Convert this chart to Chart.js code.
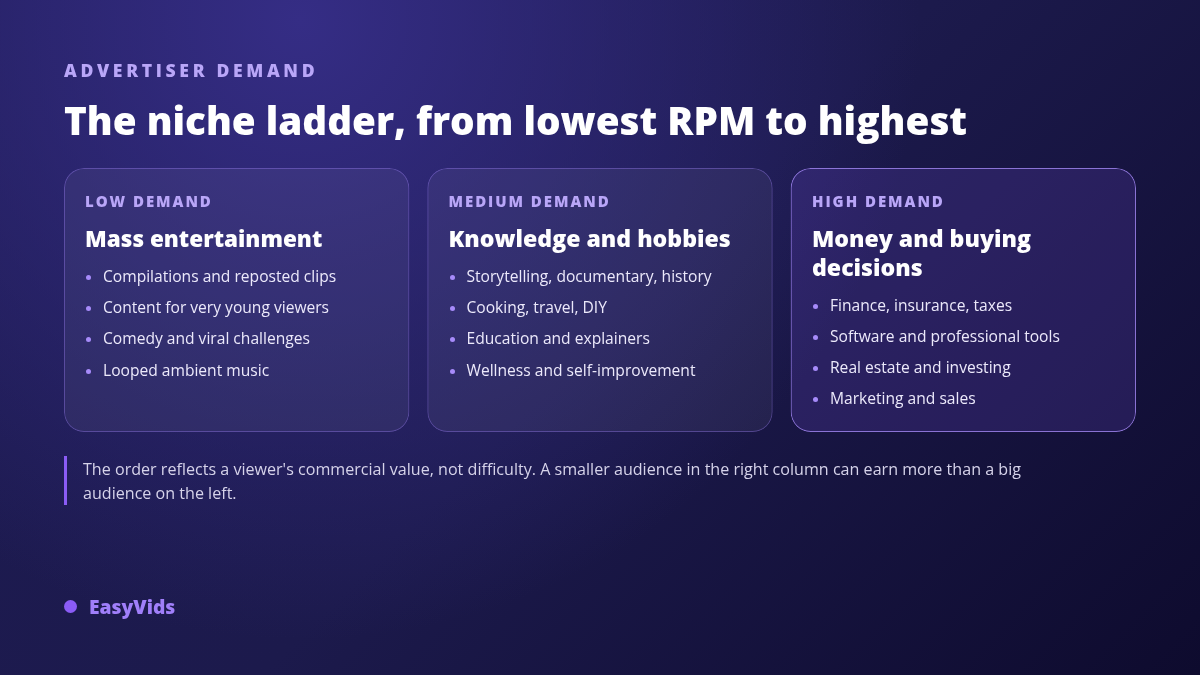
<!DOCTYPE html>
<html>
<head>
<meta charset="utf-8">
<script src="https://cdn.jsdelivr.net/npm/chart.js@4"></script>
<style>
html, body { margin: 0; padding: 0; }
body {
    width: 1200px; height: 675px; overflow: hidden; position: relative;
    font-family: "Open Sans", sans-serif; color: #fff;
    background:
        radial-gradient(circle 620px at 300px 20px, #352d85 0%, rgba(53,45,133,0) 100%),
        linear-gradient(135deg, #1e1b54 0%, #1c1a4c 50%, #0e0b2e 100%);
}
#myChart { position: absolute; left: 0; top: 0; }
.abs { position: absolute; white-space: nowrap; }
#eyebrow { left: 64px; top: 58px; font-size: 17.6px; font-weight: 800; letter-spacing: 3.65px; color: #b9a6f8; }
#title { left: 64px; top: 94px; font-size: 38.65px; font-weight: 800; line-height: 52px; }
.card { position: absolute; top: 168px; width: 305px; }
.tier { position: absolute; top: 23px; left: 0; font-size: 15px; font-weight: 800; letter-spacing: 1.95px; color: #b9a6f8; white-space: nowrap; }
.head { position: absolute; top: 56px; left: 0; width: 305px; font-weight: 800; line-height: 29px; }
.items { position: absolute; left: 0; margin: 0; padding: 0; list-style: none; }
.items li { position: relative; height: 31.2px; line-height: 31px; padding-left: 18px; font-size: 15.6px; color: #ece9fb; white-space: nowrap; }
.items li::before { content: ""; position: absolute; left: 1px; top: 14px; width: 5px; height: 5px; border-radius: 50%; background: #a78bfa; }
#note { left: 64px; top: 456px; height: 48px; padding-top: 1px; border-left: 3px solid #8b5cf6; padding-left: 16px; font-size: 16.1px; line-height: 24px; color: #d6d3ea; }
#dot { position: absolute; left: 64px; top: 600px; width: 13px; height: 13px; border-radius: 50%; background: #8b5cf6; }
#brand { left: 89px; top: 593px; font-size: 19.3px; font-weight: 800; color: #a07ffa; }
</style>
</head>
<body>
<canvas id="myChart" width="1200" height="675"></canvas>
<div class="abs" id="eyebrow"></div>
<div class="abs" id="title"></div>
<div id="cards"></div>
<div class="abs" id="note"></div>
<div id="dot"></div>
<div class="abs" id="brand"></div>
<script>
const eyebrow = "ADVERTISER DEMAND";
const title = "The niche ladder, from lowest RPM to highest";
const tiers = ["LOW DEMAND", "MEDIUM DEMAND", "HIGH DEMAND"];
const heads = ["Mass entertainment", "Knowledge and hobbies", "Money and buying decisions"];
const lowItems = ["Compilations and reposted clips", "Content for very young viewers", "Comedy and viral challenges", "Looped ambient music"];
const mediumItems = ["Storytelling, documentary, history", "Cooking, travel, DIY", "Education and explainers", "Wellness and self-improvement"];
const highItems = ["Finance, insurance, taxes", "Software and professional tools", "Real estate and investing", "Marketing and sales"];
const noteLines = ["The order reflects a viewer's commercial value, not difficulty. A smaller audience in the right column can earn more than a big", "audience on the left."];
const brand = "EasyVids";
// every card is one full-height bar
const cardValues = [1, 1, 1];
const cardFills = ["rgba(255,255,255,0.055)", "rgba(255,255,255,0.055)", "rgba(139,92,246,0.16)"];
const cardBorders = ["rgba(167,139,250,0.4)", "rgba(167,139,250,0.4)", "rgba(167,139,250,0.8)"];

new Chart(document.getElementById("myChart"), {
    type: "bar",
    data: {
        labels: tiers,
        datasets: [{
            data: cardValues,
            backgroundColor: cardFills,
            borderColor: cardBorders,
            borderWidth: 1,
            borderRadius: 20,
            borderSkipped: false,
            barPercentage: 1,
            categoryPercentage: 0.9505
        }]
    },
    options: {
        responsive: false,
        animation: false,
        layout: { padding: { left: 55, right: 55, top: 168, bottom: 243 } },
        plugins: { legend: { display: false }, tooltip: { enabled: false } },
        scales: {
            x: { display: false },
            y: { display: false, min: 0, max: 1 }
        }
    }
});

document.getElementById("eyebrow").textContent = eyebrow;
document.getElementById("title").textContent = title;
document.getElementById("note").innerHTML = noteLines.join("<br>");
document.getElementById("brand").textContent = brand;

const cardLefts = [85, 448.5, 812];
const itemTops = [93, 93, 121.6];
const headSizes = [22.5, 23.1, 23.1];
[lowItems, mediumItems, highItems].forEach((items, i) => {
    const card = document.createElement("div");
    card.className = "card";
    card.style.left = cardLefts[i] + "px";
    const t = document.createElement("div");
    t.className = "tier";
    t.textContent = tiers[i];
    const h = document.createElement("div");
    h.className = "head";
    h.style.fontSize = headSizes[i] + "px";
    h.textContent = heads[i];
    const ul = document.createElement("ul");
    ul.className = "items";
    ul.style.top = itemTops[i] + "px";
    for (const item of items) {
        const li = document.createElement("li");
        li.textContent = item;
        ul.append(li);
    }
    card.append(t, h, ul);
    document.getElementById("cards").append(card);
});
</script>
</body>
</html>
